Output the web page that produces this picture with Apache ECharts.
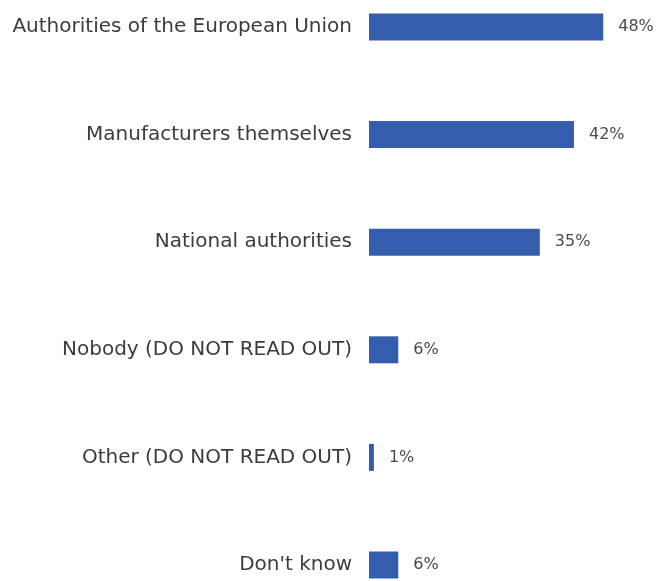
<!DOCTYPE html>
<html>
<head>
<meta charset="utf-8">
<script src="https://cdn.jsdelivr.net/npm/echarts@6/dist/echarts.min.js"></script>
<style>html,body{margin:0;padding:0;background:#fff;}#c{width:660px;height:581px;}</style>
</head>
<body>
<div id="c"></div>
<script>
const categories = [
  "Authorities of the European Union",
  "Manufacturers themselves",
  "National authorities",
  "Nobody (DO NOT READ OUT)",
  "Other (DO NOT READ OUT)",
  "Don't know"
];
const values = [48, 42, 35, 6, 1, 6];

const chart = echarts.init(document.getElementById('c'), null, {renderer: 'canvas'});
chart.setOption({
  animation: false,
  backgroundColor: '#ffffff',
  grid: {left: 369, right: 47, top: 27, bottom: 16, containLabel: false},
  xAxis: {
    type: 'value', min: 0, max: 50, show: false
  },
  yAxis: {
    type: 'category',
    data: categories,
    inverse: true,
    boundaryGap: false,
    axisLine: {show: false},
    axisTick: {show: false},
    splitLine: {show: false},
    axisLabel: {
      margin: 17,
      fontFamily: 'DejaVu Sans',
      fontSize: 20,
      color: '#3c3c3c'
    }
  },
  series: [{
    type: 'bar',
    data: values,
    barWidth: 27,
    itemStyle: {color: '#345dad'},
    label: {
      show: true,
      position: 'right',
      distance: 15,
      formatter: '{c}%',
      fontFamily: 'DejaVu Sans',
      fontSize: 16,
      color: '#4a4a4a'
    }
  }]
});
</script>
</body>
</html>
